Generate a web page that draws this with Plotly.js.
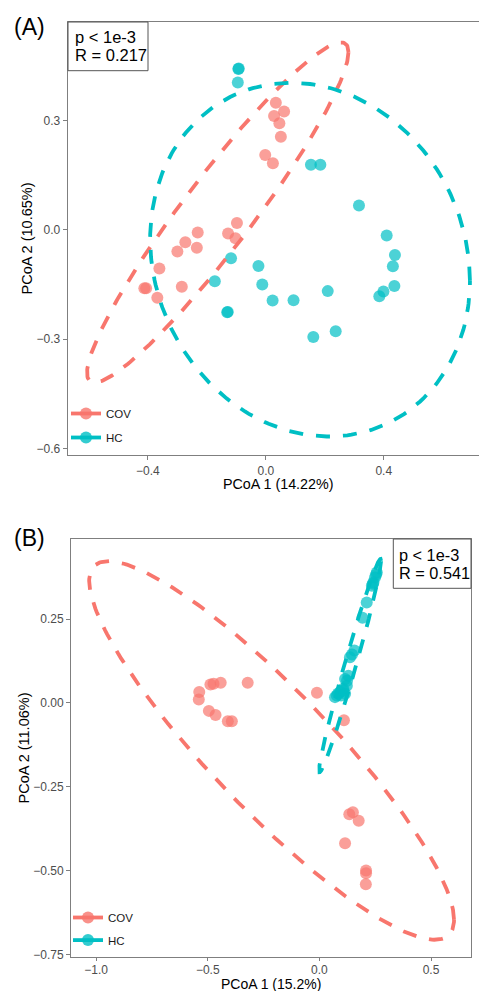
<!DOCTYPE html>
<html><head><meta charset="utf-8">
<script src="https://cdn.plot.ly/plotly-3.0.1.min.js"></script>
<style>html,body{margin:0;padding:0;background:#fff}#chart{width:479px;height:991px}</style>
</head><body><div id="chart"></div>
<script>
const groups = ['COV', 'HC'];
const colors = ['#F8766D', '#00BFC4'];

// Panel A
const a_cov_x = [0.034, 0.062, 0.028, 0.046, 0.051, -0.002, 0.024, -0.098, -0.231, -0.128, -0.103, -0.273, -0.234, -0.300, -0.361, -0.285, -0.412, -0.406, -0.368];
const a_cov_y = [0.349, 0.325, 0.313, 0.293, 0.256, 0.206, 0.183, 0.019, -0.007, -0.010, -0.023, -0.034, -0.049, -0.059, -0.106, -0.156, -0.160, -0.160, -0.186];
const a_hc_x = [-0.093, -0.092, -0.095, 0.153, 0.185, 0.316, 0.410, 0.438, 0.431, 0.436, 0.399, 0.385, 0.210, 0.094, 0.237, 0.161, -0.118, -0.173, -0.025, -0.012, 0.023, -0.131, -0.129];
const a_hc_y = [0.442, 0.443, 0.405, 0.179, 0.179, 0.067, -0.015, -0.069, -0.100, -0.154, -0.169, -0.182, -0.168, -0.193, -0.278, -0.294, -0.078, -0.141, -0.099, -0.150, -0.194, -0.226, -0.225];

// Panel B
const b_cov_x = [-0.538, -0.540, -0.488, -0.474, -0.442, -0.321, -0.011, -0.495, -0.465, -0.410, -0.392, 0.110, 0.134, 0.150, 0.176, 0.115, 0.209, 0.209, 0.208];
const b_cov_y = [0.032, 0.010, 0.055, 0.057, 0.060, 0.060, 0.030, -0.024, -0.036, -0.055, -0.055, -0.052, -0.332, -0.326, -0.352, -0.419, -0.500, -0.508, -0.541];
const b_hc_x = [0.257, 0.254, 0.249, 0.242, 0.235, 0.212, 0.193, 0.157, 0.137, 0.130, 0.115, 0.123, 0.107, 0.093, 0.078, 0.070, 0.115, 0.084, 0.097, 0.124, 0.146, 0.240, 0.106];
const b_hc_y = [0.389, 0.382, 0.374, 0.359, 0.349, 0.299, 0.254, 0.156, 0.136, 0.081, 0.071, 0.051, 0.042, 0.032, 0.022, 0.017, 0.027, 0.028, 0.022, 0.066, 0.144, 0.355, 0.037];

// 95% ellipses: [centerX, centerY, halfWidth, halfHeight, correlation]
const a_cov_ellipse = [-0.163, 0.048, 0.4434, 0.4671, 0.943];
const a_hc_ellipse = [0.150, -0.0815, 0.5424, 0.4857, -0.119];
const b_cov_ellipse = [-0.214, -0.142, 0.817, 0.5646, -0.895];
const b_hc_ellipse = [0.1375, 0.111, 0.1388, 0.318, 0.981];

const axis_titles_x = ['PCoA 1 (14.22%)', 'PCoA 1 (15.2%)'];
const axis_titles_y = ['PCoA 2 (10.65%)', 'PCoA 2 (11.06%)'];
const stats_a = ['p < 1e-3', 'R = 0.217'];
const stats_b = ['p < 1e-3', 'R = 0.541'];
const panel_labels = ['(A)', '(B)'];

function ellipse(p) {
  const n = 240, xs = [], ys = [];
  const s = Math.sqrt(1 - p[4] * p[4]);
  for (let i = 0; i <= n; i++) {
    const t = 2 * Math.PI * i / n;
    const c = Math.cos(t), si = Math.sin(t);
    xs.push(p[0] + p[2] * c);
    ys.push(p[1] + p[3] * (p[4] * c + s * si));
  }
  return {x: xs, y: ys};
}

const FONT = 'Liberation Sans, Arial, Helvetica, sans-serif';
const traces = [];
function addPanel(xs, ys, ells, xa, ya, legendId) {
  for (let g = 0; g < 2; g++) {
    traces.push({type: 'scatter', mode: 'markers', x: xs[g], y: ys[g], xaxis: xa, yaxis: ya,
      name: groups[g], showlegend: false,
      marker: {size: 12, color: colors[g], opacity: 0.7, line: {width: 0}}});
  }
  for (let g = 0; g < 2; g++) {
    const e = ellipse(ells[g]);
    traces.push({type: 'scatter', mode: 'lines', x: e.x, y: e.y, xaxis: xa, yaxis: ya,
      name: groups[g], showlegend: false, hoverinfo: 'skip',
      line: {color: colors[g], width: 3.8, dash: '14px,13px'}});
  }
  for (let g = 0; g < 2; g++) {
    traces.push({type: 'scatter', mode: 'lines+markers', x: [null], y: [null], xaxis: xa, yaxis: ya,
      name: groups[g], legend: legendId, legendgroup: legendId + groups[g], showlegend: true,
      marker: {size: 12, color: colors[g], opacity: 0.8}, line: {color: colors[g], width: 3.8}});
  }
}
addPanel([a_cov_x, a_hc_x], [a_cov_y, a_hc_y], [a_cov_ellipse, a_hc_ellipse], 'x', 'y', 'legend');
addPanel([b_cov_x, b_hc_x], [b_cov_y, b_hc_y], [b_cov_ellipse, b_hc_ellipse], 'x2', 'y2', 'legend2');

function axis(extra) {
  return Object.assign({showgrid: false, zeroline: false, showline: true, mirror: true,
    linecolor: '#7f7f7f', linewidth: 1.3, ticks: 'outside', ticklen: 4, tickwidth: 1,
    tickcolor: '#7f7f7f', tickfont: {size: 12, color: '#4d4d4d', family: FONT}}, extra);
}
const W = 479, H = 991;
const layout = {
  width: W, height: H, margin: {l: 0, r: 0, t: 0, b: 0},
  paper_bgcolor: '#fff', plot_bgcolor: '#fff',
  font: {family: FONT, color: '#000'},
  xaxis: axis({domain: [68 / W, 1], range: [-0.671, 0.7231], anchor: 'y', tick0: 0, dtick: 0.4, tickformat: '.1f'}),
  yaxis: axis({domain: [1 - 455 / H, 1 - 22 / H], range: [-0.618, 0.571], anchor: 'x', tick0: 0, dtick: 0.3, tickformat: '.1f', mirror: false,
    title: {text: axis_titles_y[0], font: {size: 14.5, color: '#000'}, standoff: 0}}),
  xaxis2: axis({domain: [71.3 / W, 471 / W], range: [-1.111, 0.679], anchor: 'y2', tick0: 0, dtick: 0.5, tickformat: '.1f', ticklen: 3, ticklabelstandoff: -2}),
  yaxis2: axis({domain: [1 - 957 / H, 1 - 539 / H], range: [-0.758, 0.4886], anchor: 'x2', tick0: 0, dtick: 0.25, tickformat: '.2f',
    title: {text: axis_titles_y[1], font: {size: 14.5, color: '#000'}, standoff: 0}}),
  legend: {x: 66 / W, xanchor: 'left', y: 1 - 399 / H, yanchor: 'top', bgcolor: 'rgba(0,0,0,0)',
    font: {size: 11.5, color: '#1a1a1a'}, traceorder: 'grouped', tracegroupgap: 5, itemwidth: 30},
  legend2: {x: 68 / W, xanchor: 'left', y: 1 - 903 / H, yanchor: 'top', bgcolor: 'rgba(0,0,0,0)',
    font: {size: 11.5, color: '#1a1a1a'}, traceorder: 'grouped', tracegroupgap: 3.6, itemwidth: 30},
  shapes: [
    {type: 'rect', xref: 'paper', yref: 'paper', x0: 68 / W, x1: 148 / W, y0: 1 - 70.7 / H, y1: 1 - 22 / H,
      line: {color: '#555', width: 1}, fillcolor: '#fff', layer: 'above'},
    {type: 'rect', xref: 'paper', yref: 'paper', x0: 393.3 / W, x1: 471 / W, y0: 1 - 588.3 / H, y1: 1 - 539 / H,
      line: {color: '#555', width: 1}, fillcolor: '#fff', layer: 'above'}
  ],
  annotations: [
    {text: panel_labels[0], xref: 'paper', yref: 'paper', x: 12 / W, y: 1 - 27.5 / H, xanchor: 'left', yanchor: 'middle', showarrow: false, font: {size: 23, color: '#000'}},
    {text: panel_labels[1], xref: 'paper', yref: 'paper', x: 12 / W, y: 1 - 538 / H, xanchor: 'left', yanchor: 'middle', showarrow: false, font: {size: 23, color: '#000'}},
    {text: axis_titles_x[0], xref: 'paper', yref: 'paper', x: 278 / W, y: 1 - 483.5 / H, xanchor: 'center', yanchor: 'middle', showarrow: false, font: {size: 14.3, color: '#000'}},
    {text: axis_titles_x[1], xref: 'paper', yref: 'paper', x: 271.3 / W, y: 1 - 984 / H, xanchor: 'center', yanchor: 'middle', showarrow: false, font: {size: 14, color: '#000'}},
    {text: stats_a[0], xref: 'paper', yref: 'paper', x: 73 / W, y: 1 - 36.7 / H, xanchor: 'left', yanchor: 'middle', showarrow: false, font: {size: 16.5, color: '#000'}},
    {text: stats_a[1], xref: 'paper', yref: 'paper', x: 73 / W, y: 1 - 54.7 / H, xanchor: 'left', yanchor: 'middle', showarrow: false, font: {size: 16.5, color: '#000'}},
    {text: stats_b[0], xref: 'paper', yref: 'paper', x: 397.3 / W, y: 1 - 555 / H, xanchor: 'left', yanchor: 'middle', showarrow: false, font: {size: 16.3, color: '#000'}},
    {text: stats_b[1], xref: 'paper', yref: 'paper', x: 397.3 / W, y: 1 - 572.5 / H, xanchor: 'left', yanchor: 'middle', showarrow: false, font: {size: 16.3, color: '#000'}}
  ]
};
Plotly.newPlot('chart', traces, layout, {displayModeBar: false, staticPlot: true});
</script></body></html>
